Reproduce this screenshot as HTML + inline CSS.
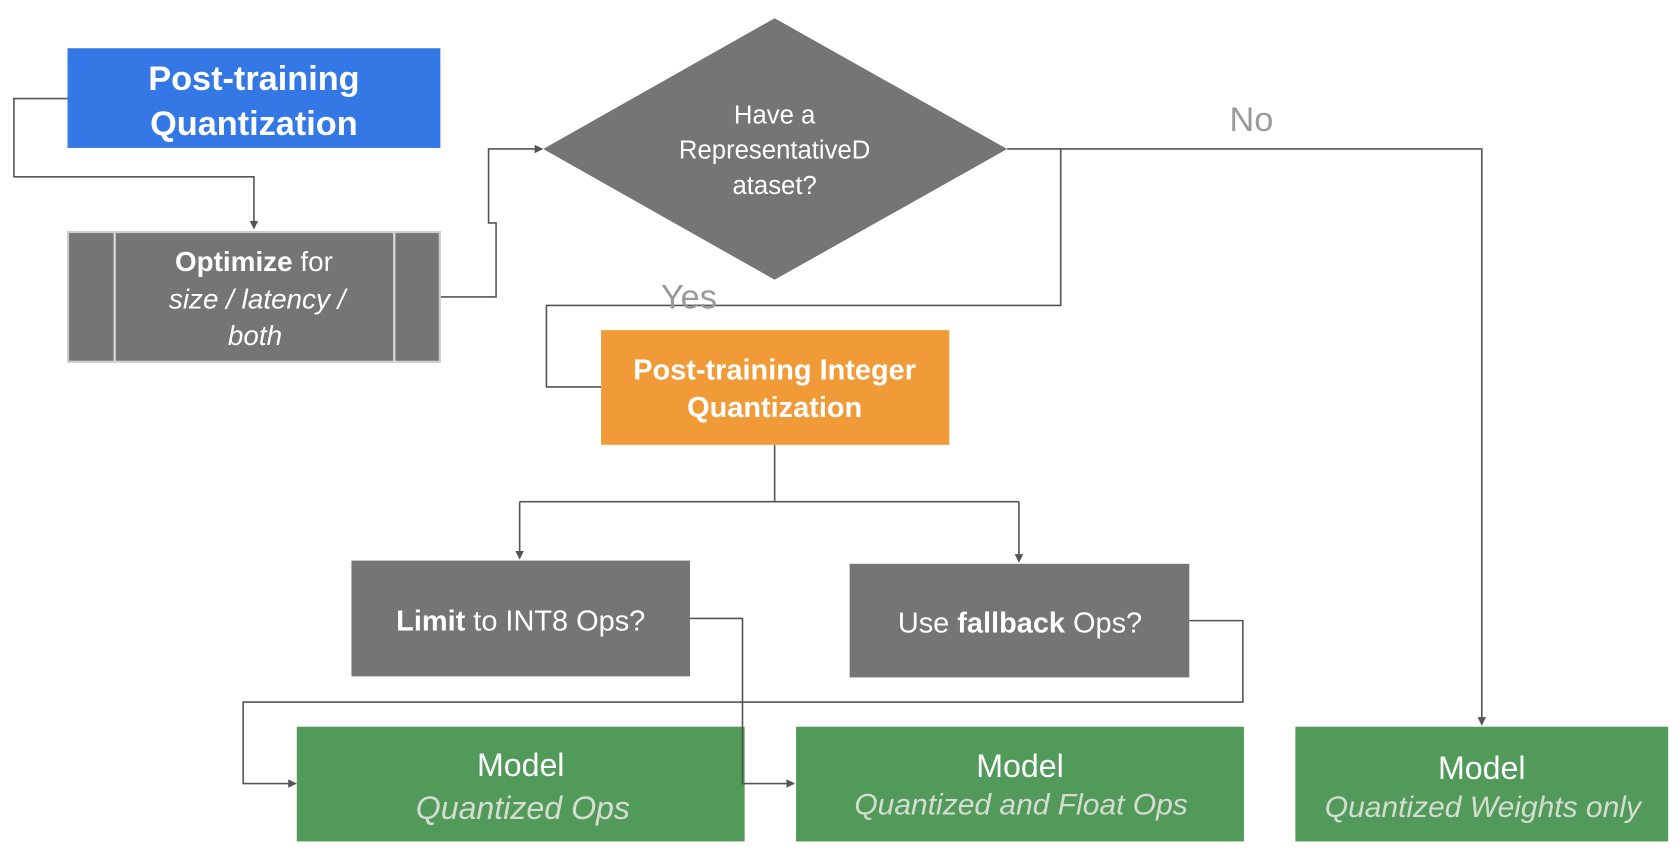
<!DOCTYPE html>
<html><head><meta charset="utf-8"><style>
html,body{margin:0;padding:0;background:#fff;}
svg{display:block;}
text{font-family:"Liberation Sans",sans-serif;}
</style></head><body>
<svg width="1680" height="850" viewBox="0 0 1568 793" preserveAspectRatio="none" xmlns="http://www.w3.org/2000/svg">
<defs>
<marker id="a" markerWidth="8" markerHeight="8" refX="7" refY="4" orient="auto" markerUnits="userSpaceOnUse">
<path d="M0,0 L8,4 L0,8 Z" fill="#555"/>
</marker>
</defs>
<g fill="none" stroke="#555" stroke-width="1.5">
<polyline points="63,92 13,92 13,165 237,165 237,213" marker-end="url(#a)"/>
<polyline points="411,277 463,277 463,208 456,208 456,139 506,139" marker-end="url(#a)"/>
<polyline points="940,139 1383,139 1383,676" marker-end="url(#a)"/>
<polyline points="990,139 990,285 510,285 510,361 561,361"/>
<polyline points="723,415 723,468"/>
<polyline points="485,468 951,468"/>
<polyline points="485,468 485,521" marker-end="url(#a)"/>
<polyline points="951,468 951,524" marker-end="url(#a)"/>
<polyline points="1110,579 1160,579 1160,655 227,655 227,731 276,731" marker-end="url(#a)"/>
</g>
<rect x="63" y="45" width="348" height="93" fill="#3478e5"/>
<text x="237" y="84" fill="#fff" font-size="32" font-weight="bold" text-anchor="middle">Post-training</text>
<text x="237" y="126" fill="#fff" font-size="32" font-weight="bold" text-anchor="middle">Quantization</text>

<rect x="63.5" y="216.5" width="347" height="121" fill="#757575" stroke="#ccc" stroke-width="2"/>
<line x1="107" y1="217" x2="107" y2="337" stroke="#ddd" stroke-width="2"/>
<line x1="368" y1="217" x2="368" y2="337" stroke="#ddd" stroke-width="2"/>
<text x="237" y="253" fill="#fff" font-size="26" text-anchor="middle"><tspan font-weight="bold">Optimize</tspan> for</text>
<text x="240" y="288" fill="#fff" font-size="26" font-style="italic" text-anchor="middle">size / latency /</text>
<text x="238" y="322" fill="#fff" font-size="26" font-style="italic" text-anchor="middle">both</text>

<polygon points="723,17 940,139 723,261 507,139" fill="#757575"/>
<text x="723" y="115" fill="#fff" font-size="24" text-anchor="middle">Have a</text>
<text x="723" y="148" fill="#fff" font-size="24" text-anchor="middle">RepresentativeD</text>
<text x="723" y="181" fill="#fff" font-size="24" text-anchor="middle">ataset?</text>

<text x="1168" y="122" fill="#999" font-size="32" text-anchor="middle">No</text>
<text x="643" y="288" fill="#999" font-size="32" text-anchor="middle">Yes</text>

<rect x="561" y="308" width="325" height="107" fill="#f09a38"/>
<text x="723" y="354" fill="#fff" font-size="27" font-weight="bold" text-anchor="middle">Post-training Integer</text>
<text x="723" y="389" fill="#fff" font-size="27" font-weight="bold" text-anchor="middle">Quantization</text>

<rect x="328" y="523" width="316" height="108" fill="#757575"/>
<text x="486" y="588" fill="#fff" font-size="27" text-anchor="middle"><tspan font-weight="bold">Limit</tspan> to INT8 Ops?</text>
<rect x="793" y="526" width="317" height="106" fill="#757575"/>
<text x="952" y="590" fill="#fff" font-size="27" text-anchor="middle">Use <tspan font-weight="bold">fallback</tspan> Ops?</text>

<rect x="277" y="678" width="418" height="107" fill="#529a5a"/>
<text x="486" y="724" fill="#fff" font-size="30" text-anchor="middle">Model</text>
<text x="488" y="764" fill="#d5ddd3" font-size="30" font-style="italic" text-anchor="middle">Quantized Ops</text>
<rect x="743" y="678" width="418" height="107" fill="#529a5a"/>
<text x="952" y="725" fill="#fff" font-size="30" text-anchor="middle">Model</text>
<text x="953" y="760" fill="#d5ddd3" font-size="28" font-style="italic" text-anchor="middle">Quantized and Float Ops</text>
<rect x="1209" y="678" width="348" height="107" fill="#529a5a"/>
<text x="1383" y="727" fill="#fff" font-size="30" text-anchor="middle">Model</text>
<text x="1384" y="762" fill="#d5ddd3" font-size="28" font-style="italic" text-anchor="middle">Quantized Weights only</text>
<polyline points="644,577 693,577 693,731 741,731" fill="none" stroke="#555" stroke-width="1.5" marker-end="url(#a)"/>
</svg>
</body></html>
